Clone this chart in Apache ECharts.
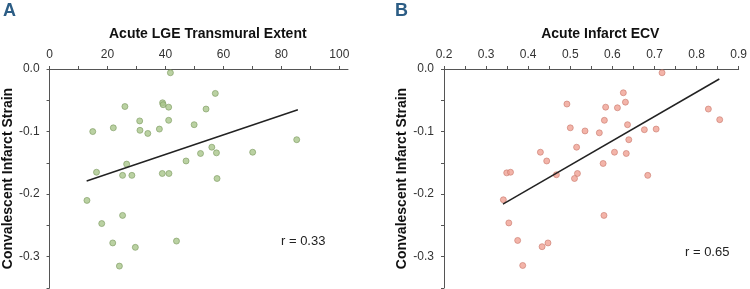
<!DOCTYPE html>
<html>
<head>
<meta charset="utf-8">
<script src="https://cdn.jsdelivr.net/npm/echarts@6/dist/echarts.min.js"></script>
<style>
  html, body { margin: 0; padding: 0; background: #fff; }
  #chart { width: 750px; height: 289px; }
</style>
</head>
<body>
<div id="chart"></div>
<script>
// panel A: acute LGE transmural extent (%) vs convalescent strain
const lgeExtent = [41.7, 57.2, 26.0, 39.0, 39.2, 41.1, 54.0, 31.1, 41.1, 49.9, 22.0, 37.9, 14.9, 31.2, 33.9, 85.3,
  56.0, 52.1, 57.6, 70.1, 47.1, 26.6, 16.2, 25.2, 28.4, 38.9, 41.2, 57.8, 12.9, 25.2, 18.0, 43.8, 21.8, 29.6, 24.1]
const lgeStrain = [-0.006, -0.039, -0.060, -0.054, -0.057, -0.061, -0.064, -0.083, -0.082, -0.089, -0.094, -0.096, -0.100, -0.098, -0.103, -0.113,
  -0.125, -0.135, -0.134, -0.133, -0.147, -0.152, -0.165, -0.170, -0.170, -0.167, -0.167, -0.175, -0.210, -0.234, -0.247, -0.275, -0.278, -0.285, -0.315]

// panel B: acute infarct ECV vs convalescent strain
const ecv = [0.718, 0.626, 0.631, 0.492, 0.584, 0.612, 0.828, 0.581, 0.855, 0.636, 0.500, 0.535, 0.569, 0.676, 0.704, 0.639,
  0.515, 0.429, 0.605, 0.633, 0.444, 0.578, 0.349, 0.358, 0.467, 0.517, 0.510, 0.684, 0.341, 0.580, 0.354, 0.375, 0.447, 0.433, 0.387]
const ecvStrain = [-0.006, -0.038, -0.053, -0.056, -0.061, -0.062, -0.064, -0.082, -0.081, -0.089, -0.094, -0.099, -0.102, -0.097, -0.096, -0.113,
  -0.125, -0.133, -0.133, -0.135, -0.147, -0.151, -0.166, -0.165, -0.169, -0.167, -0.175, -0.170, -0.209, -0.234, -0.246, -0.274, -0.278, -0.284, -0.314]

// regression line end points
const fitAX = [12.8, 85.7]
const fitAY = [-0.179, -0.065]
const fitBX = [0.340, 0.854]
const fitBY = [-0.216, -0.016]

// ticks
const ticksA = [0, 10, 20, 30, 40, 50, 60, 70, 80, 90, 100]
const labelsA = [0, 20, 40, 60, 80, 100]
const ticksB = [0.2, 0.25, 0.3, 0.35, 0.4, 0.45, 0.5, 0.55, 0.6, 0.65, 0.7, 0.75, 0.8, 0.85, 0.9]
const labelsB = [0.2, 0.3, 0.4, 0.5, 0.6, 0.7, 0.8, 0.9]
const ticksY = [0, -0.05, -0.1, -0.15, -0.2, -0.25, -0.3, -0.35]
const labelsY = [0, -0.1, -0.2, -0.3]

const font = 'Liberation Sans, Arial, Helvetica, sans-serif'
const axisColor = '#555'

function pairs(xs, ys) {
  return xs.map((x, i) => [x, ys[i]])
}

function xAxisOpt(idx, name, min, max, ticks, labels, fmt) {
  return {
    type: 'value',
    gridIndex: idx,
    position: 'top',
    min: min,
    max: max,
    name: name,
    nameLocation: 'middle',
    nameGap: 28,
    nameTextStyle: { fontFamily: font, fontWeight: 'bold', fontSize: 14, color: '#111', padding: [0, 0, 0, 18] },
    axisLine: { show: true, lineStyle: { color: axisColor, width: 1 } },
    axisTick: { show: true, length: 3, customValues: ticks, lineStyle: { color: axisColor } },
    axisLabel: { customValues: labels, margin: 8, fontFamily: font, fontSize: 12, color: '#333', formatter: fmt },
    splitLine: { show: false }
  }
}

function yAxisOpt(idx) {
  return {
    type: 'value',
    gridIndex: idx,
    min: -0.35,
    max: 0,
    name: 'Convalescent Infarct Strain',
    nameLocation: 'middle',
    nameGap: 34,
    nameTextStyle: { fontFamily: font, fontWeight: 'bold', fontSize: 14, color: '#111' },
    axisLine: { show: true, lineStyle: { color: axisColor, width: 1 } },
    axisTick: { show: true, length: 3, customValues: ticksY, lineStyle: { color: axisColor } },
    axisLabel: { customValues: labelsY, margin: 10, fontFamily: font, fontSize: 12, color: '#333',
      formatter: v => v.toFixed(1) },
    splitLine: { show: false }
  }
}

const chart = echarts.init(document.getElementById('chart'))
chart.setOption({
  animation: false,
  backgroundColor: '#fff',
  grid: [
    { left: 49, top: 69, width: 299, height: 219 },
    { left: 444, top: 69, width: 297, height: 219 }
  ],
  xAxis: [
    xAxisOpt(0, 'Acute LGE Transmural Extent', 0, 103, ticksA, labelsA, v => String(v)),
    xAxisOpt(1, 'Acute Infarct ECV', 0.2, 0.9, ticksB, labelsB, v => v.toFixed(1))
  ],
  yAxis: [yAxisOpt(0), yAxisOpt(1)],
  series: [
    {
      type: 'scatter', xAxisIndex: 0, yAxisIndex: 0,
      symbolSize: 6,
      itemStyle: { color: '#a9c68b', borderColor: '#7d9a60', borderWidth: 0.8 },
      data: pairs(lgeExtent, lgeStrain)
    },
    {
      type: 'line', xAxisIndex: 0, yAxisIndex: 0,
      showSymbol: false, silent: true,
      lineStyle: { color: '#222', width: 1.5 },
      data: pairs(fitAX, fitAY)
    },
    {
      type: 'scatter', xAxisIndex: 1, yAxisIndex: 1,
      symbolSize: 6,
      itemStyle: { color: '#f0a194', borderColor: '#c97a6e', borderWidth: 0.8 },
      data: pairs(ecv, ecvStrain)
    },
    {
      type: 'line', xAxisIndex: 1, yAxisIndex: 1,
      showSymbol: false, silent: true,
      lineStyle: { color: '#222', width: 1.5 },
      data: pairs(fitBX, fitBY)
    }
  ],
  graphic: [
    { type: 'text', left: 3, top: 2, style: { text: 'A', fontFamily: font, fontWeight: 'bold', fontSize: 18, fill: '#2c5d85' } },
    { type: 'text', left: 395, top: 2, style: { text: 'B', fontFamily: font, fontWeight: 'bold', fontSize: 18, fill: '#2c5d85' } },
    { type: 'text', left: 281, top: 235, style: { text: 'r = 0.33', fontFamily: font, fontSize: 13, fill: '#222' } },
    { type: 'text', left: 685, top: 246, style: { text: 'r = 0.65', fontFamily: font, fontSize: 13, fill: '#222' } }
  ]
})
</script>
</body>
</html>
